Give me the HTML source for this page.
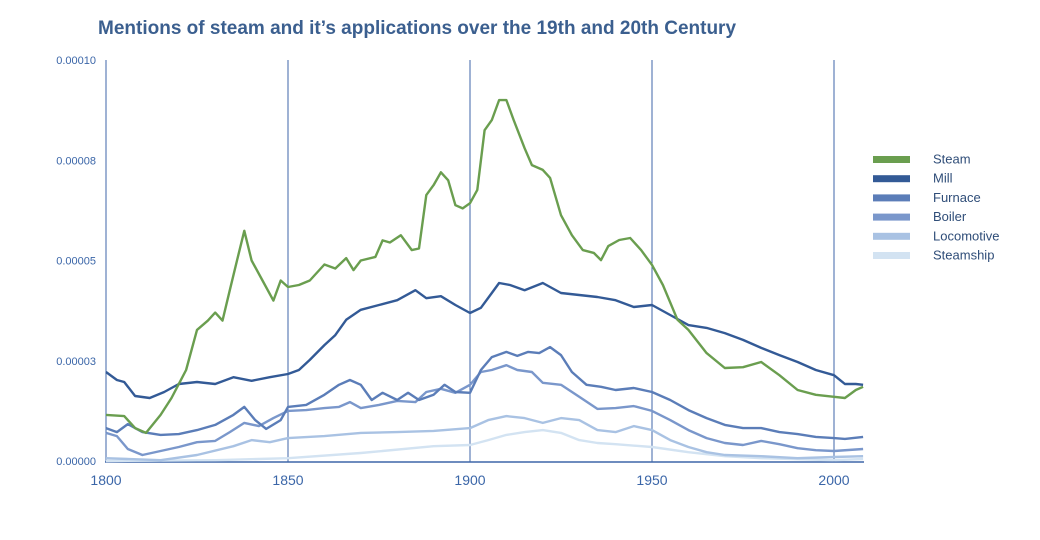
<!DOCTYPE html>
<html><head><meta charset="utf-8"><style>
body{margin:0;background:#fff;width:1040px;height:535px;overflow:hidden;font-family:"Liberation Sans",sans-serif}
</style></head><body>
<svg id="chart" width="1040" height="535" xmlns="http://www.w3.org/2000/svg">
<text x="98" y="34" font-size="19" font-weight="bold" fill="#3b5f8f" font-family="Liberation Sans, sans-serif">Mentions of steam and it’s applications over the 19th and 20th Century</text>
<g id="grid"></g><g id="series"></g><g id="legend"></g>
</svg>
<script>
const xTicks=[1800,1850,1900,1950,2000];
const yTicks=[0,2.5,5,7.5,10];
const yTickLabels=["0.00000","0.00003","0.00005","0.00008","0.00010"];
const seriesNames=["Steam","Mill","Furnace","Boiler","Locomotive","Steamship"];
const steamYears=[1800,1805,1808,1811,1815,1818,1822,1825,1828,1830,1832,1834,1836,1838,1840,1843,1846,1848,1850,1853,1856,1860,1863,1866,1868,1870,1874,1876,1878,1881,1884,1886,1888,1890,1892,1894,1896,1898,1900,1902,1904,1906,1908,1910,1912,1915,1917,1920,1922,1925,1928,1931,1934,1936,1938,1941,1944,1947,1950,1953,1957,1960,1965,1970,1975,1980,1985,1990,1995,2000,2003,2006,2008];
const steamValues=[1.15,1.12,0.82,0.7,1.15,1.57,2.27,3.27,3.5,3.7,3.5,4.26,5.0,5.74,5.0,4.5,4.0,4.5,4.34,4.39,4.5,4.9,4.8,5.06,4.76,5.0,5.09,5.5,5.45,5.63,5.26,5.3,6.63,6.88,7.2,7.0,6.38,6.3,6.43,6.76,8.25,8.5,9.0,9.0,8.5,7.8,7.38,7.26,7.06,6.13,5.63,5.26,5.19,5.01,5.36,5.51,5.56,5.26,4.89,4.39,3.52,3.27,2.69,2.32,2.34,2.47,2.14,1.77,1.65,1.6,1.57,1.77,1.85];
const millYears=[1800,1803,1805,1808,1812,1816,1820,1825,1830,1835,1840,1845,1850,1853,1856,1860,1863,1866,1870,1875,1880,1885,1888,1892,1896,1900,1903,1906,1908,1911,1915,1920,1925,1930,1935,1940,1945,1950,1955,1960,1965,1970,1975,1980,1985,1990,1995,2000,2003,2006,2008];
const millValues=[2.22,2.02,1.97,1.62,1.57,1.72,1.92,1.97,1.92,2.09,2.0,2.09,2.17,2.27,2.52,2.89,3.14,3.52,3.77,3.89,4.01,4.26,4.06,4.11,3.89,3.69,3.82,4.19,4.44,4.39,4.26,4.44,4.19,4.14,4.09,4.01,3.84,3.89,3.64,3.39,3.32,3.19,3.02,2.82,2.64,2.47,2.27,2.14,1.92,1.92,1.9];
const furnaceYears=[1800,1803,1806,1810,1815,1820,1825,1830,1835,1838,1841,1844,1848,1850,1855,1860,1864,1867,1870,1873,1876,1880,1883,1886,1890,1893,1896,1900,1903,1906,1910,1913,1916,1919,1922,1925,1928,1932,1936,1940,1945,1950,1955,1960,1965,1970,1975,1980,1985,1990,1995,2000,2003,2008];
const furnaceValues=[0.82,0.72,0.92,0.72,0.65,0.67,0.77,0.9,1.15,1.35,1.02,0.8,1.02,1.35,1.4,1.65,1.9,2.02,1.9,1.52,1.7,1.52,1.7,1.52,1.65,1.9,1.72,1.7,2.27,2.59,2.72,2.62,2.72,2.69,2.84,2.64,2.22,1.9,1.85,1.77,1.82,1.72,1.52,1.27,1.07,0.9,0.82,0.82,0.72,0.67,0.6,0.57,0.55,0.6];
const boilerYears=[1800,1803,1806,1810,1815,1820,1825,1830,1834,1838,1842,1846,1850,1855,1860,1864,1867,1870,1875,1880,1885,1888,1892,1896,1900,1903,1906,1910,1913,1917,1920,1925,1930,1935,1940,1945,1950,1955,1960,1965,1970,1975,1980,1985,1990,1995,2000,2008];
const boilerValues=[0.7,0.62,0.3,0.15,0.25,0.35,0.47,0.5,0.72,0.95,0.87,1.07,1.25,1.27,1.32,1.35,1.47,1.32,1.4,1.5,1.47,1.72,1.8,1.7,1.9,2.22,2.27,2.39,2.27,2.22,1.95,1.9,1.6,1.3,1.32,1.37,1.25,1.02,0.77,0.57,0.45,0.4,0.5,0.42,0.32,0.27,0.25,0.3];
const locoYears=[1800,1815,1825,1835,1840,1845,1850,1860,1870,1880,1890,1900,1905,1910,1915,1920,1925,1930,1935,1940,1945,1950,1955,1960,1965,1970,1980,1990,2000,2008];
const locoValues=[0.07,0.02,0.15,0.37,0.52,0.47,0.57,0.62,0.7,0.72,0.75,0.82,1.02,1.12,1.07,0.95,1.07,1.02,0.77,0.72,0.87,0.77,0.52,0.35,0.22,0.15,0.12,0.07,0.1,0.12];
const shipYears=[1800,1830,1850,1870,1890,1900,1905,1910,1915,1920,1925,1930,1935,1940,1950,1960,1970,1980,2000,2008];
const shipValues=[0.0,0.02,0.07,0.2,0.37,0.4,0.52,0.65,0.72,0.77,0.7,0.52,0.45,0.42,0.35,0.22,0.12,0.07,0.02,0.05];

const X=y=>106+(y-1800)*3.64;
const Y=v=>461-v*40.1;
const NS="http://www.w3.org/2000/svg";
function mk(tag,attrs,parent){const e=document.createElementNS(NS,tag);for(const k in attrs)e.setAttribute(k,attrs[k]);parent.appendChild(e);return e;}
const grid=document.getElementById('grid'),ser=document.getElementById('series'),leg=document.getElementById('legend');
xTicks.forEach(t=>{
 const l=mk('line',{x1:X(t),x2:X(t),y1:60,y2:462,stroke:'#3f66a8','stroke-width':1},grid);
 
 
 const tx=mk('text',{x:X(t),y:485,'text-anchor':'middle','font-size':14,fill:'#3b66a8'},grid);
 tx.textContent=t;
 
 
});
yTicks.forEach((t,i)=>{
 const tx=mk('text',{x:96,y:Y(t)+4,'text-anchor':'end','font-size':11,fill:'#3b66a8'},grid);
 tx.textContent=yTickLabels[i];
 
 
});
const ax=mk('line',{x1:105,x2:864,y1:462,y2:462,stroke:'#3f66a8','stroke-width':1.5},grid);


const all=[[shipYears,shipValues,'#d3e3f2'],[locoYears,locoValues,'#a9c2e3'],[boilerYears,boilerValues,'#7a97cb'],[furnaceYears,furnaceValues,'#5b7db8'],[millYears,millValues,'#335a96'],[steamYears,steamValues,'#6a9e4f']];
const names=["Steamship","Locomotive","Boiler","Furnace","Mill","Steam"];
all.forEach((s,i)=>{
 const d=s[0].map((y,j)=>(j?'L':'M')+X(y).toFixed(1)+','+Y(s[1][j]).toFixed(1)).join('');
 const p=mk('path',{d:d,fill:'none',stroke:s[2],'stroke-width':2.4,'stroke-linejoin':'round'},ser);
 
 
});
const legColors=['#6a9e4f','#335a96','#5b7db8','#7a97cb','#a9c2e3','#d3e3f2'];
seriesNames.forEach((n,i)=>{
 const y=159+i*19.2;
 const r=mk('rect',{x:873,y:y-3,width:37,height:7,fill:legColors[i]},leg);
 
 
 const t=mk('text',{x:933,y:y+4.5,'font-size':13,fill:'#2f4d78'},leg);
 t.textContent=n;
 
 
});
</script>
</body></html>
